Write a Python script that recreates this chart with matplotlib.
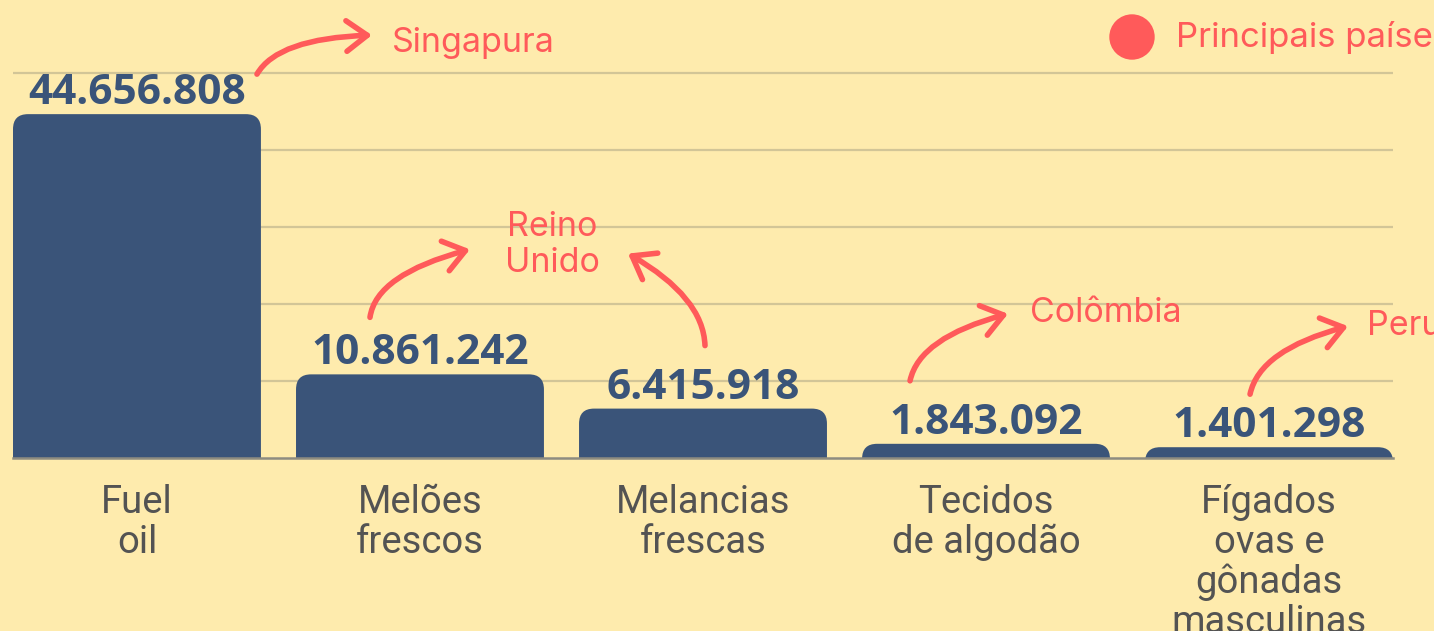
import matplotlib
matplotlib.use('Agg')
import matplotlib.pyplot as plt
from matplotlib.patches import FancyBboxPatch, Circle
from matplotlib.transforms import IdentityTransform

# dados
produtos = ['Fuel\noil', 'Melões\nfrescos', 'Melancias\nfrescas',
            'Tecidos\nde algodão', 'Fígados\novas e\ngônadas\nmasculinas']
valores = [44656808, 10861242, 6415918, 1843092, 1401298]
paises = ['Singapura', 'Reino\nUnido', None, 'Colômbia', 'Peru']
legenda = 'Principais países'

fundo = '#feebad'
azul = '#3a5479'
vermelho = '#ff5a5a'
cinza = '#535353'

W, H = 1434, 631
fig = plt.figure(figsize=(W / 100, H / 100), dpi=100, facecolor=fundo)
ax = fig.add_axes([13 / W, 173 / H, 1380 / W, 458 / H])
ax.set_facecolor(fundo)

largura = 0.876
x = list(range(len(valores)))
ax.set_xlim(-largura / 2, x[-1] + largura / 2)
ytop = 458 / 77 * 1e7
ax.set_ylim(0, ytop)

ax.set_yticks([1e7, 2e7, 3e7, 4e7, 5e7])
ax.yaxis.grid(True, color='#d2c597', lw=1.6)
ax.set_axisbelow(True)
ax.tick_params(left=False, labelleft=False, bottom=False, labelbottom=False)
for s in ax.spines.values():
    s.set_visible(False)
ax.axhline(0, color='#8e8c80', lw=1.8, clip_on=False, zorder=3)

# barras com cantos de cima arredondados
rx = 15 / 283
ry = 15 / 458 * ytop
barras = ax.bar(x, valores, width=largura, color=azul)
for b in barras:
    b.set_visible(False)
    ax.add_patch(FancyBboxPatch((b.get_x(), -3 * ry), b.get_width(), b.get_height() + 3 * ry,
                                boxstyle=f'round,pad=0,rounding_size={rx}',
                                mutation_aspect=ry / rx, color=azul, lw=0, zorder=2))

for xi, v in zip(x, valores):
    ax.annotate(f'{v:,}'.replace(',', '.'), xy=(xi, v), xytext=(0, 10),
                textcoords='offset pixels', ha='center', va='baseline',
                fontsize=30.5, fontweight='bold', family='Open Sans', color=azul,
                annotation_clip=False)

for xi, nome in zip(x, produtos):
    for k, linha in enumerate(nome.split('\n')):
        ax.annotate(linha, xy=(xi, 0), xytext=(0, -55 - 40 * k),
                    textcoords='offset pixels', ha='center', va='baseline',
                    fontsize=27.5, family='Roboto', color=cinza,
                    annotation_clip=False)

# setas: (inicio dx, dy), (ponta dx, dy), angulos -- em pixels a partir do topo da barra
setas = [((120, -40), (235, -79), 60, 2),
         ((-50, -57), (50, -125), 82, 15),
         ((2, -63), (-75, -155), 92, 150),
         ((-76, -63), (22, -130), 78, 15),
         ((-19, -53), (79, -121), 78, 15)]
# texto do pais: (dx, dy da linha de base), alinhamento
pos_pais = [((255, -62), 'left'),
            ((132, -138), 'center'),
            None,
            ((44, -122), 'left'),
            ((98, -112), 'left')]

for xi, v, seta, pp, pais in zip(x, valores, setas, pos_pais, paises):
    px, py = ax.transData.transform((xi, v))
    (sx, sy), (tx, ty), aA, aB = seta
    ax.annotate('', xy=(px + tx, py - ty), xycoords='figure pixels',
                xytext=(px + sx, py - sy), textcoords='figure pixels',
                arrowprops=dict(arrowstyle='->,head_length=0.75,head_width=0.55',
                                connectionstyle=f'angle3,angleA={aA},angleB={aB}',
                                color=vermelho, lw=4, shrinkA=0, shrinkB=0,
                                mutation_scale=20, capstyle='round', joinstyle='round'),
                annotation_clip=False)
    if pais is not None:
        (dx, dy), ha = pp
        for k, linha in enumerate(pais.split('\n')):
            fig.text(px + dx, py - dy - 36 * k, linha, transform=IdentityTransform(),
                     ha=ha, va='baseline', fontsize=24.5, family='Inter', color=vermelho)

fig.add_artist(Circle((1132, H - 37), 22.7, transform=IdentityTransform(),
                      color=vermelho, lw=0))
fig.text(1176, H - 47, legenda, transform=IdentityTransform(), ha='left', va='baseline',
         fontsize=25, family='Inter', color=vermelho)

fig.savefig('out.png', dpi=100, facecolor=fundo)
